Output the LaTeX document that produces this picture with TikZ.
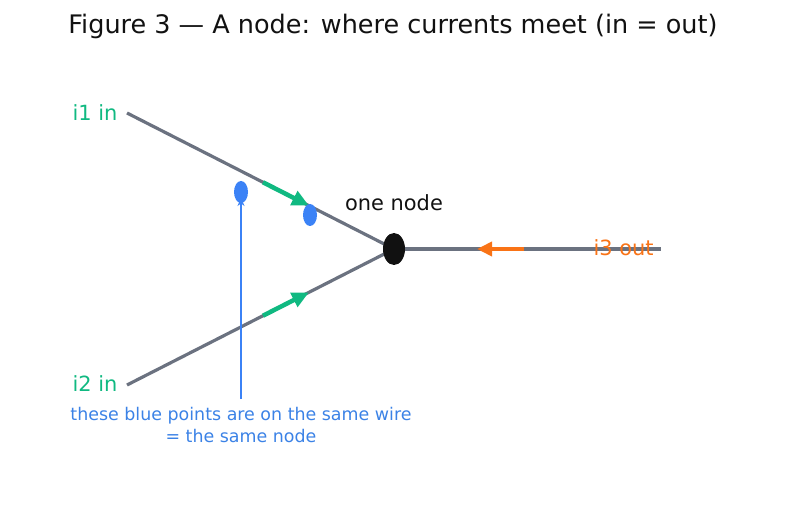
\documentclass[tikz,border=0pt]{standalone}
\usepackage{fontspec}
\setmainfont{DejaVu Sans}
\usepackage{xcolor}
\usetikzlibrary{arrows.meta,shapes.geometric}
\definecolor{ink}{HTML}{111111}
\definecolor{wire}{HTML}{6B7280}
\definecolor{flowin}{HTML}{10B981}
\definecolor{flowout}{HTML}{F97316}
\definecolor{bluemark}{HTML}{3B82F6}
\definecolor{note}{HTML}{3B82E6}
\tikzset{
  wireline/.style={draw=wire,line width=3.2bp},
  inflow/.style={draw=flowin,line width=4.5bp,-{Triangle[length=17bp 0 0,width=15bp 0 0]}},
  outflow/.style={draw=flowout,line width=4.5bp,-{Triangle[length=15bp 0 0,width=14bp 0 0]}},
  dot/.style={ellipse,fill=bluemark,inner sep=0pt,minimum width=14bp,minimum height=22bp},
  lbl/.style={font=\fontsize{21}{25}\selectfont}
}

\begin{document}
\begin{tikzpicture}[x=1bp,y=-1bp]
\useasboundingbox (0,0) rectangle (787,512);
\node[text=ink,font=\fontsize{25.6}{30}\selectfont] (title) at (393,26) {Figure 3 — A node: where currents meet (in = out)};
% the wires
\coordinate (i1) at (127,113); \coordinate (i2) at (127,385); \coordinate (i3) at (661,249);
\coordinate (junction) at (394,249);
\draw[wireline] (i1) -- (junction); \draw[wireline] (i2) -- (junction); \draw[wireline] (junction) -- (i3);
\node[ellipse,fill=ink,inner sep=0pt,minimum width=22bp,minimum height=32bp] (nodeball) at (junction) {};
\node[lbl,text=ink] (nodelbl) at (394,203) {one node};
% current directions
\coordinate (a1s) at (263,182.3); \coordinate (a1e) at (309,205.7);
\coordinate (a2s) at (263,315.7); \coordinate (a2e) at (309,292.3);
\coordinate (a3s) at (524,249); \coordinate (a3e) at (477,249);
\draw[inflow] (a1s) -- (a1e); \draw[inflow] (a2s) -- (a2e); \draw[outflow] (a3s) -- (a3e);
\node[lbl,text=flowin,anchor=east] (lbl1) at (121,113) {i1 in};
\node[lbl,text=flowin,anchor=east] (lbl2) at (121,384) {i2 in};
\node[lbl,text=flowout,anchor=west] (lbl3) at (590,248) {i3 out};
% same wire, same node
\coordinate (tail) at (241,399); \coordinate (tip) at (241,198);
\draw[bluemark,line width=1.5bp,-{Stealth[length=8bp 0 0,width=7bp 0 0]}] (tail) -- (tip);
\node[dot] (p1) at (241,192) {}; \node[dot] (p2) at (310,215) {};
\node[text=note,font=\fontsize{17.5}{22}\selectfont,align=center,anchor=north] (remark) at (241,404) {these blue points are on the same wire\\= the same node};
\end{tikzpicture}
\end{document}
